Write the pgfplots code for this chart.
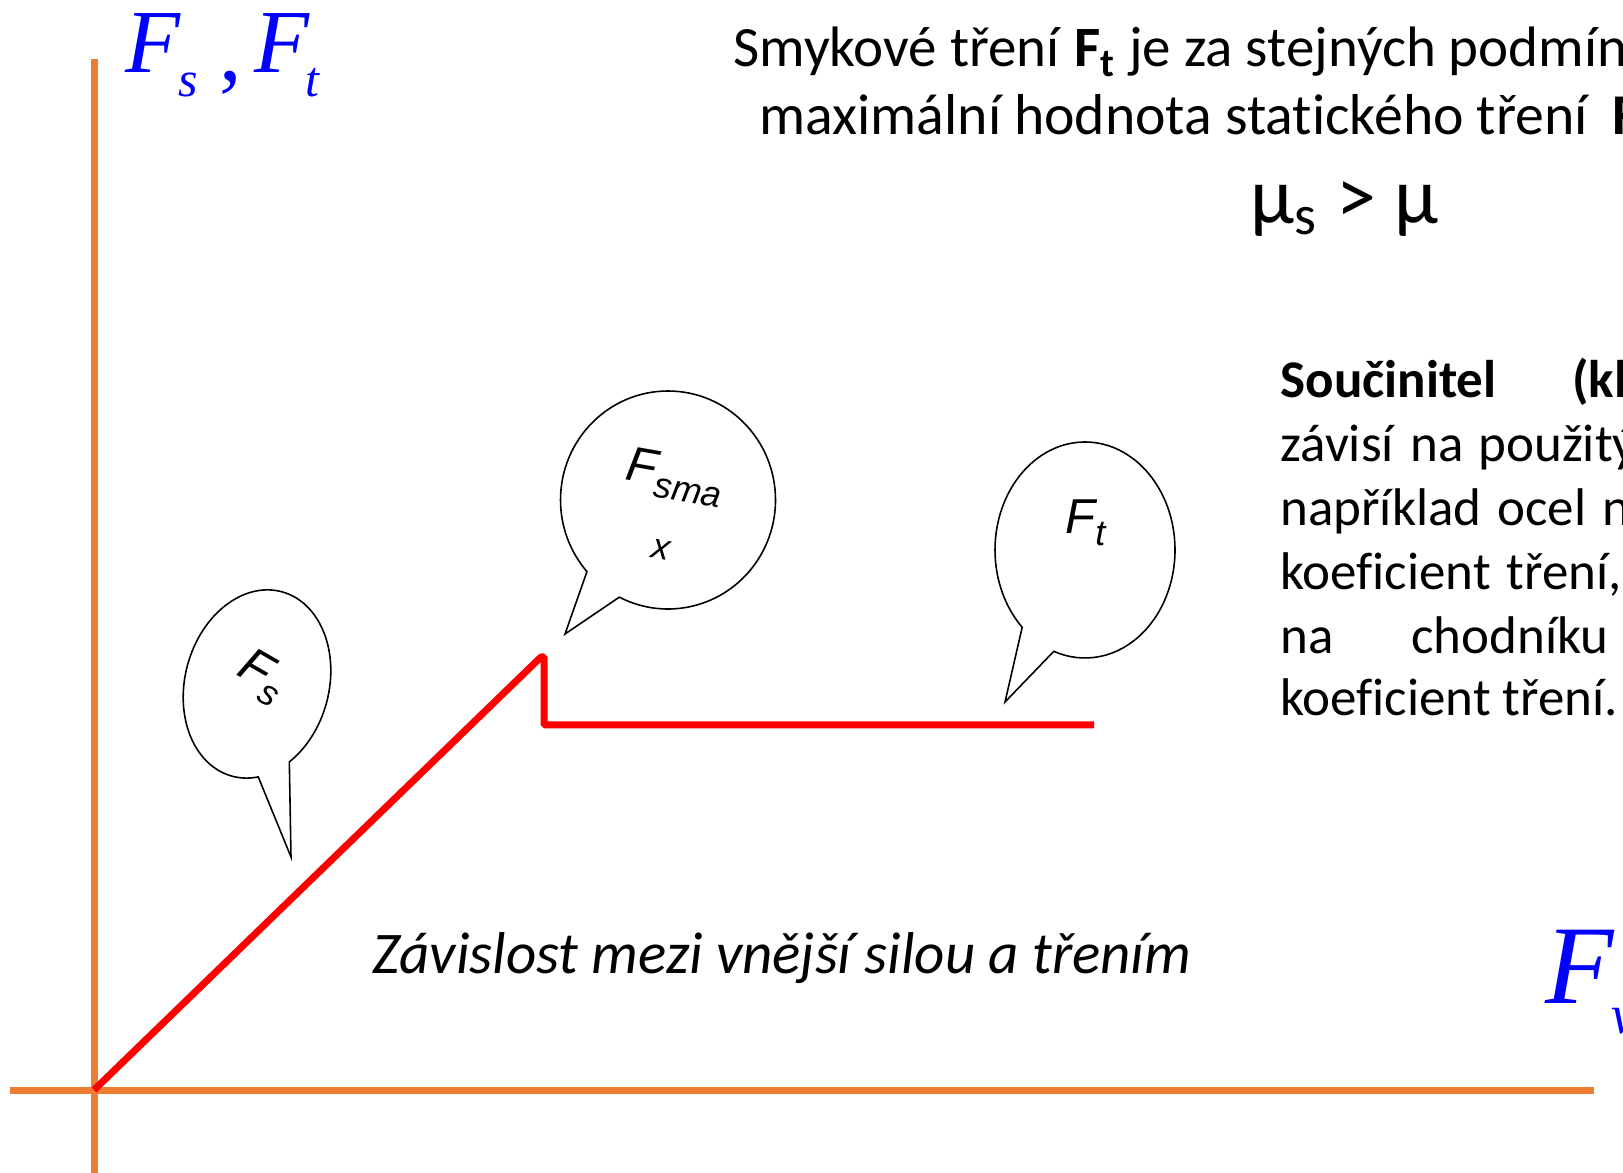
\documentclass[border=0pt]{standalone}
\usepackage{fontspec}
\setmainfont{Carlito}[Ligatures=NoCommon]
\newfontfamily\arial{Liberation Sans}
\newfontfamily\tnr{Liberation Serif}
\usepackage{pgfplots}
\pgfplotsset{compat=1.18}
\usetikzlibrary{shapes.callouts}
\definecolor{axorange}{HTML}{ED7D31}
\definecolor{fblue}{HTML}{0000FF}

% 1 unit = 1 px of the 1623x1172 slide = 0.1 mm; origin at the crossing of the axes
\newcommand\fs[2]{\fontsize{#1mm}{#2mm}\selectfont}
\newcommand\bub[2]{{\arial\itshape\fs{4.9}{5.5}#1\raisebox{-1.2mm}{\fs{3.6}{4}#2}}}
\newcommand\ptxt{\fs{5.3}{6.4}}

\begin{document}
\begin{tikzpicture}
\path[use as bounding box, clip] (0,0) rectangle (162.3mm,117.2mm);
\begin{axis}[
    at={(0,0)}, anchor=south west,
    scale only axis, width=162.3mm, height=117.2mm,
    xmin=-94, xmax=1529, ymin=-82, ymax=1090,
    hide axis, clip=false,
    every node/.style={inner sep=0pt},
]
% axes
\addplot[axorange, line width=0.7mm, line cap=butt] coordinates {(-84,0) (1500,0)};
\addplot[axorange, line width=0.7mm, line cap=butt] coordinates {(0,-90) (0,1031)};

% friction curve
\addplot[red, line width=0.7mm, line join=bevel] coordinates {
    (0,0) (447,433) (450,433) (450,365) (1000,365)
};

% speech bubbles
\node[ellipse callout, draw=black, fill=white, line width=0.45pt,
      minimum width=14.4mm, minimum height=19.1mm, rotate=-15,
      callout absolute pointer={(axis cs:197,233)}, callout pointer arc=25]
      at (axis cs:163,406) {};
\node[ellipse callout, draw=black, fill=white, line width=0.45pt,
      minimum width=21.5mm, minimum height=21.8mm,
      callout absolute pointer={(axis cs:471,456)}, callout pointer arc=22]
      at (axis cs:574,590) {};
\node[ellipse callout, draw=black, fill=white, line width=0.45pt,
      minimum width=18mm, minimum height=21.6mm,
      callout absolute pointer={(axis cs:911,388)}, callout pointer arc=24]
      at (axis cs:991,540) {};

\node[rotate=-30] at (axis cs:168,413) {\bub{F}{s}};
\node[rotate=-10] at (axis cs:581,613) {\bub{F}{sma}};
\node[rotate=-10] at (axis cs:567,540) {\arial\itshape\fs{3.6}{4}x};
\node[anchor=base west] at (axis cs:959,556) {\bub{F}{t}};

% blue axis labels
\node[anchor=base west, text=fblue] at (axis cs:19,1017) {\tnr\itshape\fs{9}{9}F};
\node[anchor=base west, text=fblue] at (axis cs:72,993) {\tnr\itshape\fs{5}{5}s};
\node[anchor=base west, text=fblue] at (axis cs:113,1009) {\tnr\fs{9}{9},};
\node[anchor=base west, text=fblue] at (axis cs:148,1017) {\tnr\itshape\fs{9}{9}F};
\node[anchor=base west, text=fblue] at (axis cs:199,993) {\tnr\itshape\fs{5}{5}t};
\node[anchor=base west, text=fblue] at (axis cs:1439,87) {\tnr\itshape\fs{11.2}{11.2}F};
\node[anchor=base west, text=fblue] at (axis cs:1505,57) {\tnr\itshape\fs{5.5}{5.5}v};

% heading
\node[anchor=base west] at (axis cs:627,1023) {\fs{5.7}{6.9}Smykové tření \textbf{F\textsubscript{t}} je za stejných podmínek menší než};
\node[anchor=base west] at (axis cs:653,955) {\fs{5.77}{6.9}maximální hodnota statického tření};
\node[anchor=base west] at (axis cs:1506,955) {\fs{5.77}{6.9}\textbf{F\textsubscript{smax}}};
\node[anchor=base west] at (axis cs:1144,866) {\fs{8}{9}μ\textsubscript{s} > μ};

% paragraph on the right, justified word by word
\node[anchor=base west] at (axis cs:1174,692) {\ptxt\textbf{Součinitel}};
\node[anchor=base west] at (axis cs:1466,692) {\ptxt\textbf{(klidového nebo smykového)}};
\node[anchor=base west] at (axis cs:1174,628) {\ptxt závisí};
\node[anchor=base west] at (axis cs:1304,628) {\ptxt na};
\node[anchor=base west] at (axis cs:1372,628) {\ptxt použitých materiálech,};
\node[anchor=base west] at (axis cs:1174,564) {\ptxt například};
\node[anchor=base west] at (axis cs:1391,564) {\ptxt ocel};
\node[anchor=base west] at (axis cs:1496,564) {\ptxt na ledu má malý};
\node[anchor=base west] at (axis cs:1174,500) {\ptxt koeficient};
\node[anchor=base west] at (axis cs:1400,500) {\ptxt tření, asfaltová pneumatika};
\node[anchor=base west] at (axis cs:1174,436) {\ptxt na};
\node[anchor=base west] at (axis cs:1305,436) {\ptxt chodníku má vysoký};
\node[anchor=base west] at (axis cs:1174,374) {\ptxt koeficient tření.};

% caption
\node[anchor=base west] at (axis cs:266,117) {\fs{5.9}{7}\itshape Závislost mezi vnější silou a třením};
\end{axis}
\end{tikzpicture}
\end{document}
